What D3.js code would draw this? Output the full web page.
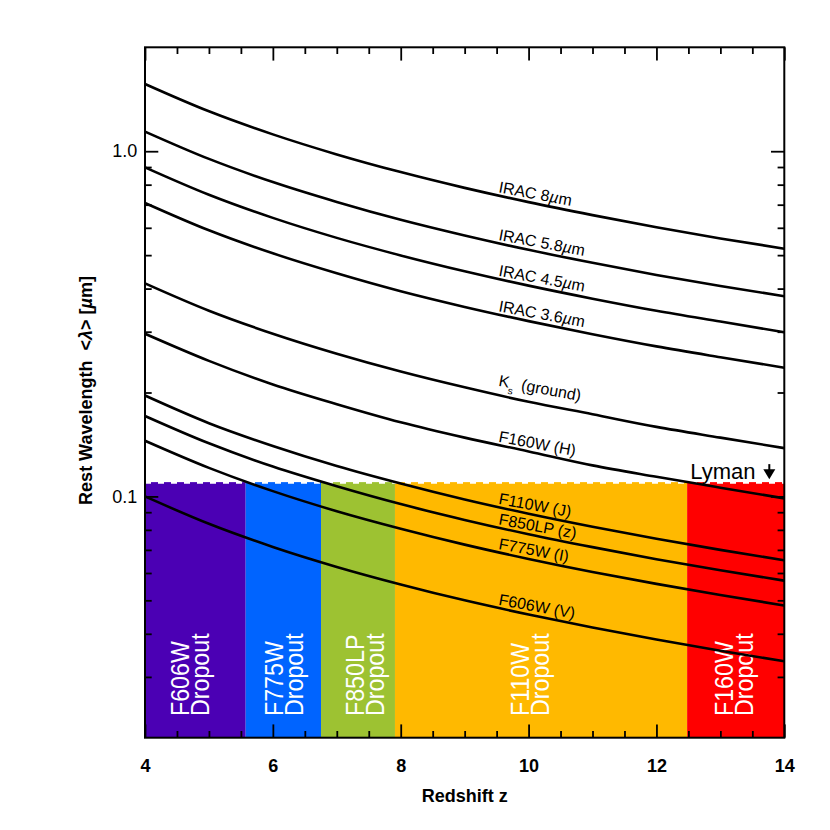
<!DOCTYPE html>
<html>
<head>
<meta charset="utf-8">
<script src="https://cdn.jsdelivr.net/npm/d3@7"></script>
<style>
  html, body { margin: 0; padding: 0; background: #fff; }
  svg { display: block; font-family: "Liberation Sans", Arial, Helvetica, sans-serif; }
</style>
</head>
<body>
<svg id="chart" width="830" height="830"></svg>
<script>
// redshift grid the curves were read at
const redshift = [4, 5, 6, 7, 8, 9, 10, 11, 12, 13, 14];

// rest wavelength (micron) of each filter
const irac8 = [1.566, 1.305, 1.119, 0.979, 0.870, 0.783, 0.712, 0.653, 0.602, 0.559, 0.522];
const irac58 = [1.140, 0.950, 0.814, 0.713, 0.633, 0.570, 0.518, 0.475, 0.438, 0.407, 0.380];
const irac45 = [0.898, 0.748, 0.641, 0.561, 0.499, 0.449, 0.408, 0.374, 0.345, 0.321, 0.299];
const irac36 = [0.708, 0.590, 0.506, 0.443, 0.393, 0.354, 0.322, 0.295, 0.272, 0.253, 0.236];
const ksGround = [0.414, 0.345, 0.296, 0.259, 0.230, 0.207, 0.188, 0.173, 0.159, 0.148, 0.138];
const f160w = [0.296, 0.247, 0.211, 0.185, 0.164, 0.148, 0.135, 0.123, 0.114, 0.106, 0.0987];
const f110w = [0.196, 0.163, 0.140, 0.1225, 0.109, 0.098, 0.0891, 0.0817, 0.0754, 0.070, 0.0653];
const f850lp = [0.171, 0.1425, 0.122, 0.107, 0.095, 0.0855, 0.0777, 0.0713, 0.0658, 0.0611, 0.057];
const f775w = [0.145, 0.121, 0.1036, 0.0906, 0.0806, 0.0725, 0.0659, 0.0604, 0.0558, 0.0518, 0.0483];
const f606w = [0.100, 0.0833, 0.0714, 0.0625, 0.0556, 0.050, 0.0455, 0.0417, 0.0385, 0.0357, 0.0333];

// dropout selection windows
const dropoutNames = ["F606W", "F775W", "F850LP", "F110W", "F160W"];
const dropoutEdges = [4, 5.575, 6.753, 7.91, 12.48, 14];
const dropoutLabelZ = [4.69, 6.16, 7.43, 10.0, 13.2];
const lymanTop = 0.11;

// ticks
const xMajorTicks = [4, 6, 8, 10, 12, 14];
const xMinorTicks = [4.5, 5, 5.5, 6.5, 7, 7.5, 8.5, 9, 9.5, 10.5, 11, 11.5, 12.5, 13, 13.5];
const yMajorTicks = [0.1, 1.0];
const yMinorTicks = [0.03, 0.04, 0.05, 0.06, 0.07, 0.08, 0.09, 0.2, 0.3, 0.4, 0.5, 0.6, 0.7, 0.8, 0.9];

const dropoutColors = ["#4b00b4", "#0064ff", "#9dc232", "#ffb900", "#ff0000"];

const series = [
  { label: [["IRAC 8"], ["µ", "i"], ["m"]], values: irac8, dy: -3 },
  { label: [["IRAC 5.8"], ["µ", "i"], ["m"]], values: irac58, dy: -3 },
  { label: [["IRAC 4.5"], ["µ", "i"], ["m"]], values: irac45, dy: -3 },
  { label: [["IRAC 3.6"], ["µ", "i"], ["m"]], values: irac36, dy: -3 },
  { label: [["K"], ["s", "sub"], [" (ground)", "up"]], values: ksGround, dy: -9 },
  { label: [["F160W (H)"]], values: f160w, dy: -3 },
  { label: [["F110W (J)"]], values: f110w, dy: -3 },
  { label: [["F850LP (z)"]], values: f850lp, dy: -3 },
  { label: [["F775W (I)"]], values: f775w, dy: -3 },
  { label: [["F606W (V)"]], values: f606w, dy: -3 },
];

const plotLeft = 145, plotRight = 784.3, plotTop = 47.3, plotBottom = 737.7;
const labelZ = 9.52;
const labelAngle = 10.5;

const svg = d3.select("#chart");

const x = d3.scaleLinear().domain([4, 14]).range([plotLeft, plotRight]);
const y = d3.scaleLog().domain([0.02, 2]).range([plotBottom, plotTop]);

svg.append("defs").append("clipPath").attr("id", "plot")
  .append("rect")
  .attr("x", plotLeft).attr("y", plotTop)
  .attr("width", plotRight - plotLeft).attr("height", plotBottom - plotTop);

// dropout bands
const bands = dropoutNames.map((name, i) => ({
  name, z0: dropoutEdges[i], z1: dropoutEdges[i + 1], color: dropoutColors[i], lz: dropoutLabelZ[i]
}));

svg.append("g").selectAll("rect")
  .data(bands)
  .join("rect")
  .attr("x", (d) => x(d.z0))
  .attr("y", y(lymanTop))
  .attr("width", (d) => x(d.z1) - x(d.z0))
  .attr("height", plotBottom - y(lymanTop))
  .attr("fill", (d) => d.color);

svg.append("line")
  .attr("x1", plotLeft).attr("x2", plotRight)
  .attr("y1", y(lymanTop) + 0.5).attr("y2", y(lymanTop) + 0.5)
  .attr("stroke", "#fff")
  .attr("stroke-width", 2)
  .attr("stroke-dasharray", "6,7");

// white dropout labels (under the curves)
const dl = svg.append("g").selectAll("g")
  .data(bands)
  .join("g")
  .attr("transform", (d) => `translate(${x(d.lz)},716) rotate(-90) scale(0.93,1)`)
  .attr("fill", "#fff")
  .style("font-size", "25px");
dl.append("text").attr("x", 0).attr("y", 0).text((d) => d.name);
dl.append("text").attr("x", 0).attr("y", 20).text("Dropout");

// curves
const line = d3.line()
  .x((d) => x(d[0]))
  .y((d) => y(d[1]))
  .curve(d3.curveMonotoneX);

svg.append("g")
  .attr("clip-path", "url(#plot)")
  .selectAll("path")
  .data(series)
  .join("path")
  .attr("d", (d) => line(redshift.map((z, i) => [z, d.values[i]])))
  .attr("fill", "none")
  .attr("stroke", "#000")
  .attr("stroke-width", 2.6);

// pixel y of a curve at a given z (for label placement)
function curveY(values, z) {
  const i = Math.min(d3.bisectRight(redshift, z) - 1, redshift.length - 2);
  const t = (z - redshift[i]) / (redshift[i + 1] - redshift[i]);
  return y(values[i]) * (1 - t) + y(values[i + 1]) * t;
}

const labels = svg.append("g")
  .style("font-size", "16px")
  .attr("fill", "#000")
  .selectAll("text")
  .data(series)
  .join("text")
  .attr("transform", (d) => `translate(${x(labelZ)},${curveY(d.values, labelZ) + d.dy}) rotate(${labelAngle})`);

labels.each(function (d) {
  const t = d3.select(this);
  d.label.forEach(([txt, kind]) => {
    const sp = t.append("tspan").text(txt);
    if (kind === "i") sp.style("font-style", "italic");
    if (kind === "sub") sp.attr("dy", 6).style("font-size", "10px");
    if (kind === "up") sp.attr("dy", -6).attr("dx", 3);
  });
});

// Lyman annotation
svg.append("text")
  .attr("x", plotRight - 94)
  .attr("y", y(lymanTop) - 3.5)
  .style("font-size", "22px")
  .text("Lyman");
const ax = plotRight - 15, ay = y(lymanTop) - 3;
svg.append("path")
  .attr("d", `M${ax},${ay - 15}V${ay - 8}`)
  .attr("stroke", "#000").attr("stroke-width", 2);
svg.append("path")
  .attr("d", `M${ax - 6},${ay - 10}L${ax + 6},${ay - 10}L${ax},${ay}Z`)
  .attr("fill", "#000");

// axes, ticks drawn inward on all four sides
function styleAxis(g) {
  g.select(".domain").remove();
  g.selectAll(".tick line").attr("stroke", "#000").attr("stroke-width", 1.8);
}

svg.append("g")
  .attr("transform", `translate(0,${plotBottom})`)
  .call(d3.axisBottom(x).tickValues(xMajorTicks).tickSize(-13.3).tickPadding(22).tickFormat(d3.format("d")))
  .call(styleAxis)
  .call((g) => g.selectAll("text")
    .attr("fill", "#000")
    .style("font-size", "18px")
    .style("font-weight", "bold")
    .style("font-family", "\"Liberation Sans\", Arial, sans-serif"));
svg.append("g")
  .attr("transform", `translate(0,${plotBottom})`)
  .call(d3.axisBottom(x).tickValues(xMinorTicks).tickSize(-6.7).tickFormat(""))
  .call(styleAxis);
svg.append("g")
  .attr("transform", `translate(0,${plotTop})`)
  .call(d3.axisTop(x).tickValues(xMajorTicks).tickSize(-13.3).tickFormat(""))
  .call(styleAxis);
svg.append("g")
  .attr("transform", `translate(0,${plotTop})`)
  .call(d3.axisTop(x).tickValues(xMinorTicks).tickSize(-6.7).tickFormat(""))
  .call(styleAxis);

svg.append("g")
  .attr("transform", `translate(${plotLeft},0)`)
  .call(d3.axisLeft(y).tickValues(yMajorTicks).tickSize(-13.3).tickPadding(7.7).tickFormat(d3.format(".1f")))
  .call(styleAxis)
  .call((g) => g.selectAll("text")
    .attr("fill", "#000")
    .style("font-size", "18px")
    .style("font-family", "\"Liberation Sans\", Arial, sans-serif"));
svg.append("g")
  .attr("transform", `translate(${plotLeft},0)`)
  .call(d3.axisLeft(y).tickValues(yMinorTicks).tickSize(-6.7).tickFormat(""))
  .call(styleAxis);
svg.append("g")
  .attr("transform", `translate(${plotRight},0)`)
  .call(d3.axisRight(y).tickValues(yMajorTicks).tickSize(-13.3).tickFormat(""))
  .call(styleAxis);
svg.append("g")
  .attr("transform", `translate(${plotRight},0)`)
  .call(d3.axisRight(y).tickValues(yMinorTicks).tickSize(-6.7).tickFormat(""))
  .call(styleAxis);

// frame
svg.append("rect")
  .attr("x", plotLeft).attr("y", plotTop)
  .attr("width", plotRight - plotLeft).attr("height", plotBottom - plotTop)
  .attr("fill", "none")
  .attr("stroke", "#000")
  .attr("stroke-width", 2);

// axis titles
svg.append("text")
  .attr("x", (plotLeft + plotRight) / 2)
  .attr("y", 802)
  .attr("text-anchor", "middle")
  .style("font-size", "18px")
  .style("font-weight", "bold")
  .text("Redshift z");

const yt = svg.append("text")
  .attr("transform", `translate(91.5,${(plotTop + plotBottom) / 2 - 2}) rotate(-90)`)
  .attr("text-anchor", "middle")
  .style("font-size", "18px")
  .style("font-weight", "bold");
yt.append("tspan").text("Rest Wavelength\u00a0\u00a0<");
yt.append("tspan").style("font-style", "italic").text("λ");
yt.append("tspan").text("> [");
yt.append("tspan").style("font-style", "italic").text("µ");
yt.append("tspan").text("m]");
</script>
</body>
</html>
